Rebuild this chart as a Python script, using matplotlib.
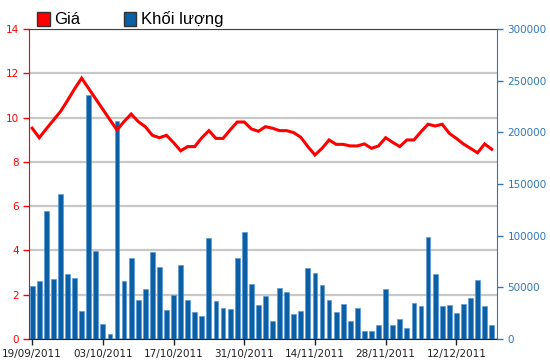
import numpy as np
import matplotlib
matplotlib.use('Agg')
import matplotlib.pyplot as plt
from matplotlib.patches import Patch

# trading-day labels shown on the x axis (every 10th session)
tick_labels = ['19/09/2011', '03/10/2011', '17/10/2011', '31/10/2011',
               '14/11/2011', '28/11/2011', '12/12/2011']

# price (left axis) per session
price = [9.52, 9.09, 9.49, 9.88, 10.27, 10.77, 11.30, 11.78, 11.31, 10.84,
         10.37, 9.90, 9.44, 9.82, 10.16, 9.82, 9.59, 9.20, 9.09, 9.20,
         8.87, 8.50, 8.69, 8.69, 9.09, 9.41, 9.06, 9.06, 9.44, 9.80,
         9.80, 9.49, 9.38, 9.59, 9.52, 9.41, 9.41, 9.32, 9.11, 8.69,
         8.31, 8.61, 8.99, 8.79, 8.79, 8.72, 8.72, 8.81, 8.61, 8.72,
         9.09, 8.88, 8.69, 8.99, 8.99, 9.36, 9.70, 9.62, 9.70, 9.29,
         9.06, 8.81, 8.61, 8.41, 8.81, 8.57]

# volume (right axis) per session
volume = [51000, 55800, 123900, 58000, 140600, 62900, 59400, 27100, 236100, 85500,
          14800, 4500, 211300, 55800, 78400, 38000, 48400, 84500, 70000, 28100,
          42600, 71300, 37700, 25800, 21900, 97400, 36500, 30300, 29000, 78400,
          103500, 53200, 32600, 41300, 17400, 49700, 45200, 24500, 27100, 69000,
          64200, 52000, 37700, 25800, 33900, 17400, 30300, 7700, 7700, 13500,
          48400, 13500, 19700, 10300, 35200, 31600, 98700, 62600, 31600, 32600,
          25500, 33900, 40000, 56800, 31600, 13500]

red = '#ff0000'
blue = '#0a5fa5'
axis_blue = '#2f78b4'

x = np.arange(len(price))

fig = plt.figure(figsize=(5.5, 3.64), dpi=100)
pos = [0.0527, 0.0687, 0.8509, 0.8516]
ax = fig.add_axes(pos)

# left axis: grid only (drawn underneath)
ax.set_ylim(0, 14)
ax.set_yticks(range(0, 15, 2))
ax.set_xlim(-0.45, 65.75)
ax.grid(axis='y', color='#c8c8c8', linewidth=1.6)
ax.set_axisbelow(True)
ax.tick_params(axis='y', colors=red, labelsize=7.5, length=4, width=1)
ax.spines['left'].set_color(red)
ax.spines['top'].set_color('#404040')
ax.spines['bottom'].set_color('#202020')
ax.spines['right'].set_visible(False)
ax.set_xticks(range(0, 70, 10))
ax.set_xticklabels(tick_labels)
ax.tick_params(axis='x', labelsize=7.5, length=4, width=1, colors='#202020')

# volume bars on the right axis
ax2 = ax.twinx()
ax2.bar(x, volume, width=0.68, color=blue, edgecolor='#5a9ad6', linewidth=0.5)
ax2.set_ylim(0, 300000)
ax2.set_yticks(range(0, 300001, 50000))
ax2.tick_params(axis='y', colors=axis_blue, labelsize=7.5, length=4, width=1)
ax2.spines['right'].set_color(axis_blue)
ax2.spines['left'].set_visible(False)
ax2.spines['top'].set_visible(False)
ax2.spines['bottom'].set_visible(False)

# price line on top, in its own transparent axes
ax3 = fig.add_axes(pos, sharex=ax)
ax3.plot(x, price, color=red, linewidth=2.2, solid_joinstyle='miter')
ax3.set_ylim(0, 14)
ax3.patch.set_visible(False)
ax3.axis('off')

handles = [Patch(facecolor=red, edgecolor='#333333', label='Giá'),
           Patch(facecolor=blue, edgecolor='#333333', label='Khối lượng')]
fig.legend(handles=handles, loc='upper left', bbox_to_anchor=(0.04, 1.01),
           ncol=2, frameon=False, handlelength=0.75,
           handleheight=0.9, handletextpad=0.3, columnspacing=2.6,
           prop={'family': 'Liberation Sans', 'size': 12})

fig.savefig('out.png', dpi=100)
